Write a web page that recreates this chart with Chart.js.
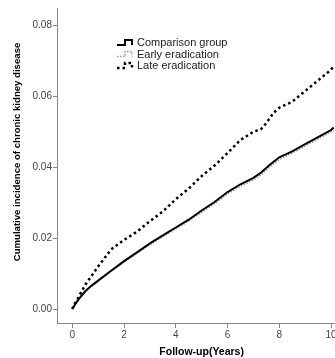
<!DOCTYPE html>
<html>
<head>
<meta charset="utf-8">
<script src="https://cdn.jsdelivr.net/npm/chart.js@4"></script>
<style>
html,body{margin:0;padding:0;background:#fff;overflow:hidden;width:335px;height:358px;}
canvas{display:block;}
</style>
</head>
<body>
<canvas id="c" width="345" height="358"></canvas>
<script>
const seriesNames = ["Comparison group", "Early eradication", "Late eradication"];
const xTickValues = [0, 2, 4, 6, 8, 10];
const yTickValues = [0, 0.02, 0.04, 0.06, 0.08];
const xTitle = "Follow-up(Years)";
const yTitle = "Cumulative incidence of chronic kidney disease";

const comparisonYears = [0,0.1,0.25,0.5,0.75,1,1.5,2,2.5,3,3.5,4,4.5,5,5.5,6,6.5,7,7.3,7.6,8,8.5,9,9.5,10,10.1];
const comparisonValues = [0,0.0012,0.0028,0.0050,0.0066,0.0080,0.0108,0.0135,0.0160,0.0185,0.0208,0.0230,0.0252,0.0278,0.0302,0.0330,0.0352,0.0370,0.0385,0.0405,0.0428,0.0445,0.0465,0.0485,0.0505,0.0512];

const earlyYears = [0,0.1,0.25,0.5,0.75,1,1.5,2,2.5,3,3.5,4,4.5,5,5.5,6,6.5,7,7.3,7.6,8,8.5,9,9.5,10,10.1];
const earlyValues = [0,0.0012,0.0028,0.0049,0.0065,0.0079,0.0106,0.0132,0.0157,0.0181,0.0204,0.0226,0.0248,0.0273,0.0297,0.0325,0.0346,0.0364,0.0379,0.0399,0.0422,0.0440,0.0460,0.0480,0.0500,0.0505];

const lateYears = [0,0.1,0.25,0.5,1,1.5,2,2.5,3,3.5,4,4.5,5,5.5,6,6.5,7,7.3,7.5,7.8,8,8.5,9,9.5,10,10.1];
const lateValues = [0,0.0015,0.0035,0.0068,0.0120,0.0168,0.0195,0.0218,0.0248,0.0275,0.0310,0.0340,0.0375,0.0405,0.0440,0.0477,0.0500,0.0508,0.0525,0.0555,0.0568,0.0585,0.0615,0.0645,0.0675,0.0685];

function pts(xs, ys){ return xs.map((x,i)=>({x:x, y:ys[i]})); }

const FONT = "'Liberation Sans', Arial, sans-serif";

const styles = [
  {color:'#000', width:2, dash:[]},
  {color:'#9a9a9a', width:1.5, dash:[1.5,1.5]},
  {color:'#000', width:2.5, dash:[2.5,3]}
];

const legendPlugin = {
  id: 'customDecor',
  afterDraw(chart){
    const ctx = chart.ctx;
    const xs = chart.scales.x;
    ctx.save();
    const rowY = [43, 54.5, 66];
    ctx.font = '11px ' + FONT;
    ctx.textBaseline = 'middle';
    ctx.textAlign = 'left';
    for (let i=0;i<3;i++){
      const s = styles[i], cy = rowY[i];
      ctx.strokeStyle = s.color;
      ctx.lineWidth = s.width;
      ctx.setLineDash(s.dash);
      ctx.beginPath();
      ctx.moveTo(117, cy+2);
      ctx.lineTo(125, cy+2);
      ctx.lineTo(125, cy-3);
      ctx.lineTo(132, cy-3);
      ctx.lineTo(132, cy+2);
      ctx.stroke();
      ctx.setLineDash([]);
      ctx.fillStyle = '#222';
      ctx.fillText(seriesNames[i], 137, cy);
    }
    ctx.fillStyle = '#000';
    ctx.font = 'bold 10.5px ' + FONT;
    ctx.textAlign = 'center';
    ctx.textBaseline = 'middle';
    const xc = (xs.getPixelForValue(0) + xs.getPixelForValue(10)) / 2;
    ctx.fillText(xTitle, xc, 352);
    ctx.font = 'bold 9.6px ' + FONT;
    ctx.translate(17, 152);
    ctx.rotate(-Math.PI/2);
    ctx.fillText(yTitle, 0, 0);
    ctx.restore();
  }
};

new Chart(document.getElementById('c'), {
  type: 'line',
  data: {
    datasets: [
      {label: seriesNames[0], data: pts(comparisonYears, comparisonValues), borderColor: styles[0].color, borderWidth: styles[0].width, borderDash: styles[0].dash, pointRadius: 0, tension: 0, order: 1},
      {label: seriesNames[1], data: pts(earlyYears, earlyValues), borderColor: styles[1].color, borderWidth: styles[1].width, borderDash: styles[1].dash, pointRadius: 0, tension: 0, order: 2},
      {label: seriesNames[2], data: pts(lateYears, lateValues), borderColor: styles[2].color, borderWidth: styles[2].width, borderDash: styles[2].dash, pointRadius: 0, tension: 0, order: 0}
    ]
  },
  options: {
    responsive: false,
    animation: false,
    events: [],
    layout: {padding: {left: 31.5, top: 8, right: 0, bottom: 16}},
    plugins: {legend: {display: false}, tooltip: {enabled: false}},
    scales: {
      x: {
        type: 'linear', min: -0.553, max: 10.54,
        afterBuildTicks(axis){ axis.ticks = xTickValues.map(v=>({value:v})); },
        ticks: {font: {family: FONT, size: 10}, color: '#444', padding: 1, maxRotation: 0, autoSkip: false,
          callback: v => String(v)},
        grid: {drawOnChartArea: false, drawTicks: true, tickLength: 5, color: '#888'},
        border: {display: true, color: '#888', width: 1}
      },
      y: {
        type: 'linear', min: -0.00395, max: 0.08494,
        afterBuildTicks(axis){ axis.ticks = yTickValues.map(v=>({value:v})); },
        ticks: {font: {family: FONT, size: 10}, color: '#444', padding: 1, autoSkip: false,
          callback: v => Number(v).toFixed(2)},
        grid: {drawOnChartArea: false, drawTicks: true, tickLength: 5, color: '#888'},
        border: {display: true, color: '#888', width: 1}
      }
    }
  },
  plugins: [legendPlugin]
});
</script>
</body>
</html>
